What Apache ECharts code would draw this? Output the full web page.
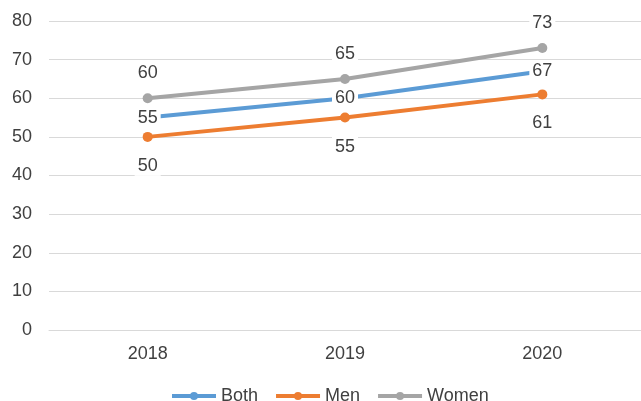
<!DOCTYPE html>
<html>
<head>
<meta charset="utf-8">
<script src="https://cdn.jsdelivr.net/npm/echarts@6/dist/echarts.min.js"></script>
<style>
    html, body { margin: 0; padding: 0; background: #fff; }
    #app { width: 641px; height: 401px; }
</style>
</head>
<body>
<div id="app"></div>
<script>
// 数据
let years = ["2018", "2019", "2020"];
let both = [55, 60, 67];
let men = [50, 55, 61];
let women = [60, 65, 73];

let font = "Liberation Sans, Arial, sans-serif";

// 数据标签
let makeLabel = (position, distance) => ({
    show: true,
    position: position,
    distance: distance,
    fontFamily: font,
    fontSize: 18,
    color: "#404040",
    backgroundColor: "#fff",
    padding: [1, 3]
});

let makeSeries = (name, data, color, position, distance, z) => ({
    name: name,
    type: "line",
    data: data,
    z: z,
    symbol: "circle",
    symbolSize: 10,
    lineStyle: { color: color, width: 4 },
    itemStyle: { color: color },
    label: makeLabel(position, distance),
    emphasis: { disabled: true }
});

let myChart = echarts.init(document.querySelector("#app"));
myChart.setOption({
    animation: false,
    grid: {
        left: 49,
        right: 0,
        top: 21,
        bottom: 71
    },
    legend: {
        top: 382,
        left: 165,
        itemWidth: 44,
        itemHeight: 10,
        itemGap: 16,
        lineStyle: { width: 4 },
        textStyle: { fontFamily: font, fontSize: 18, color: "#404040" },
        data: ["Both", "Men", "Women"]
    },
    xAxis: {
        type: "category",
        data: years,
        axisLine: { lineStyle: { color: "#d9d9d9", width: 1 } },
        axisTick: { show: false },
        axisLabel: { fontFamily: font, fontSize: 18, color: "#404040", margin: 15 }
    },
    yAxis: {
        type: "value",
        min: 0,
        max: 80,
        interval: 10,
        axisLine: { show: false },
        axisTick: { show: false },
        splitLine: { lineStyle: { color: "#d9d9d9", width: 1 } },
        axisLabel: { fontFamily: font, fontSize: 18, color: "#404040", margin: 17 }
    },
    series: [
        makeSeries("Both", both, "#5B9BD5", "inside", 0, 2),
        makeSeries("Men", men, "#ED7D31", "bottom", 14, 3),
        makeSeries("Women", women, "#A5A5A5", "top", 10, 4)
    ]
});
</script>
</body>
</html>
